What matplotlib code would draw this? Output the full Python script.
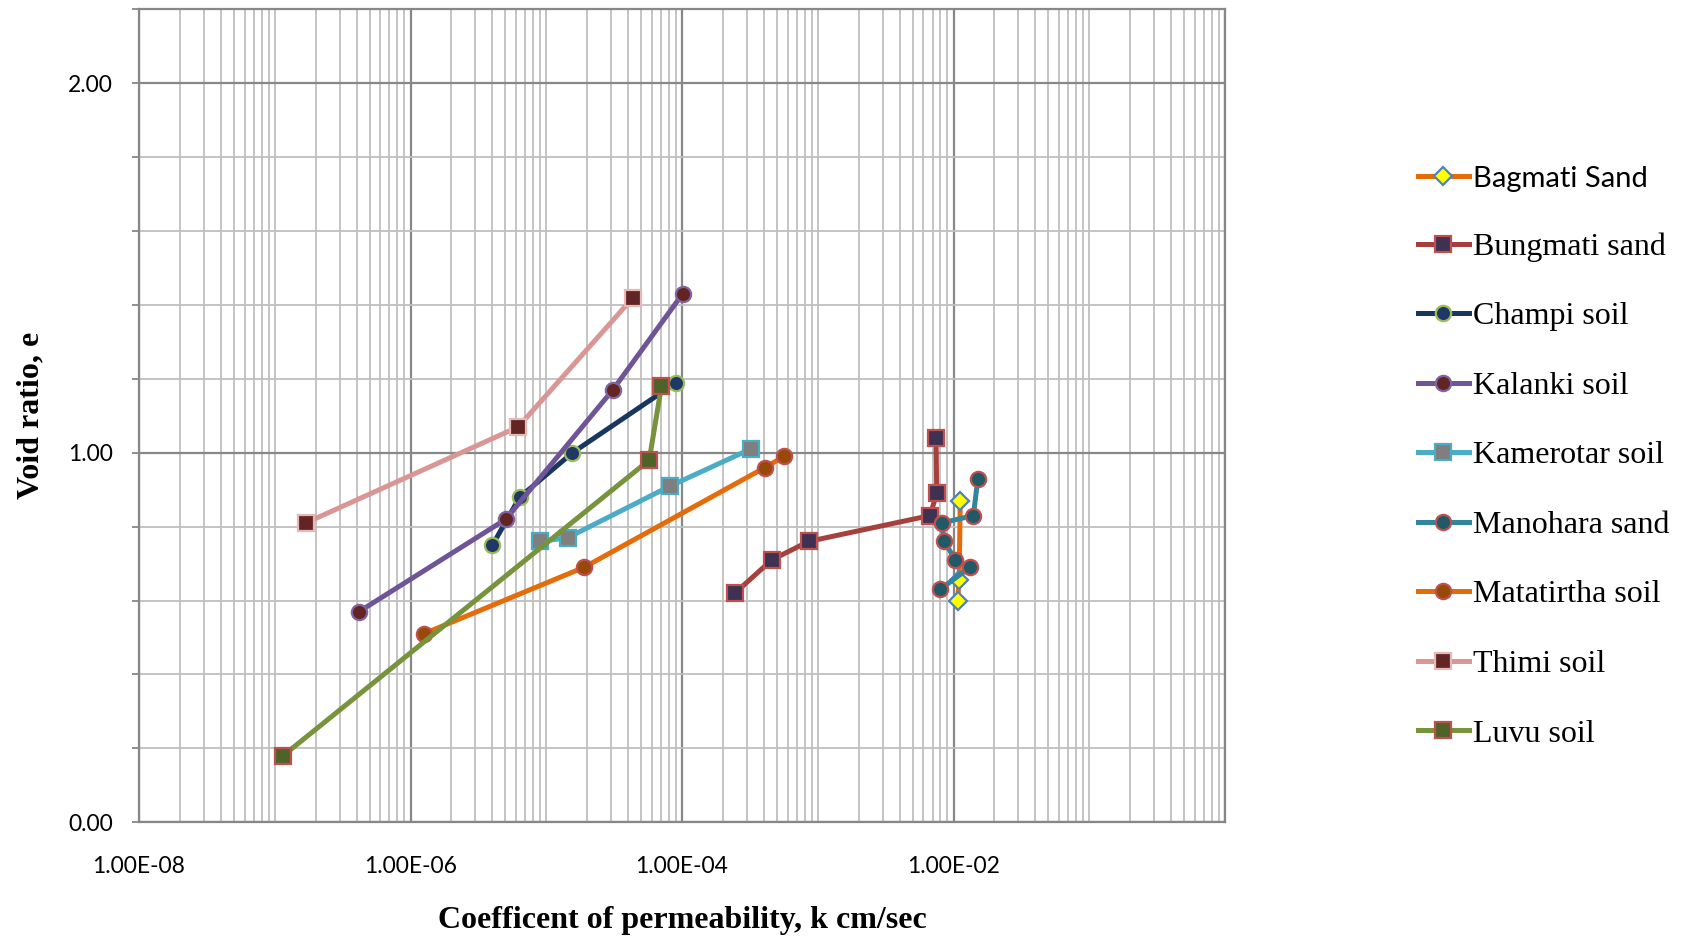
import matplotlib
matplotlib.use('Agg')
import matplotlib.pyplot as plt
from matplotlib.ticker import FixedLocator, LogLocator, NullFormatter, MultipleLocator

# permeability k (cm/sec) and void ratio e for each soil
bagmati_k = [1.12e-2, 1.10e-2, 1.07e-2]
bagmati_e = [0.87, 0.655, 0.60]
bungmati_k = [2.45e-4, 4.58e-4, 8.57e-4, 6.71e-3, 7.52e-3, 7.43e-3]
bungmati_e = [0.62, 0.71, 0.76, 0.83, 0.89, 1.04]
champi_k = [4.01e-6, 6.38e-6, 1.56e-5, 9.08e-5]
champi_e = [0.75, 0.88, 1.00, 1.19]
kalanki_k = [4.18e-7, 5.03e-6, 3.09e-5, 1.01e-4]
kalanki_e = [0.57, 0.82, 1.17, 1.43]
kamerotar_k = [9.0e-6, 1.44e-5, 8.18e-5, 3.20e-4]
kamerotar_e = [0.76, 0.77, 0.91, 1.01]
manohara_k = [1.51e-2, 1.40e-2, 8.18e-3, 8.55e-3, 1.03e-2, 1.32e-2, 7.96e-3]
manohara_e = [0.93, 0.83, 0.81, 0.76, 0.71, 0.69, 0.63]
matatirtha_k = [1.25e-6, 1.90e-5, 4.08e-4, 5.64e-4]
matatirtha_e = [0.51, 0.69, 0.96, 0.99]
thimi_k = [1.69e-7, 6.22e-6, 4.36e-5]
thimi_e = [0.81, 1.07, 1.42]
luvu_k = [1.15e-7, 5.73e-5, 7.05e-5]
luvu_e = [0.18, 0.98, 1.18]

x_ticks = [1e-8, 1e-6, 1e-4, 1e-2]
x_tick_labels = ['1.00E-08', '1.00E-06', '1.00E-04', '1.00E-02']
y_ticks = [0.0, 1.0, 2.0]
y_tick_labels = ['0.00', '1.00', '2.00']

# name, k, e, line colour, marker, marker face, marker edge
series = [
    ('Bagmati Sand', bagmati_k, bagmati_e, '#E46C0A', 'D', '#FFFF00', '#4F81BD'),
    ('Bungmati sand', bungmati_k, bungmati_e, '#A5403D', 's', '#3F3151', '#C0504D'),
    ('Champi soil', champi_k, champi_e, '#17375E', 'o', '#1F3864', '#9BBB59'),
    ('Kalanki soil', kalanki_k, kalanki_e, '#6F5597', 'o', '#632523', '#8064A2'),
    ('Kamerotar soil', kamerotar_k, kamerotar_e, '#4BACC6', 's', '#7F7F7F', '#4BACC6'),
    ('Manohara sand', manohara_k, manohara_e, '#31859C', 'o', '#215967', '#C0504D'),
    ('Matatirtha soil', matatirtha_k, matatirtha_e, '#E46C0A', 'o', '#984807', '#C0504D'),
    ('Thimi soil', thimi_k, thimi_e, '#D99694', 's', '#632523', '#E6B9B8'),
    ('Luvu soil', luvu_k, luvu_e, '#77933C', 's', '#4F6228', '#C0504D'),
]

fig = plt.figure(figsize=(16.83, 9.39), dpi=100)
ax = fig.add_axes([0.0826, 0.1243, 0.6453, 0.8658])

for name, k, e, lc, mk, mf, me in series:
    ms = 9 if mk == 'D' else 11
    ax.plot(k, e, color=lc, lw=3.6, marker=mk, markersize=ms,
            markerfacecolor=mf, markeredgecolor=me, markeredgewidth=1.6,
            label=name, zorder=3)

ax.set_xscale('log')
ax.set_xlim(1e-8, 1e0)
ax.set_ylim(0, 2.2)

ax.xaxis.set_major_locator(FixedLocator(x_ticks + [1e0]))
ax.set_xticklabels(x_tick_labels + [''])
ax.xaxis.set_minor_locator(LogLocator(base=10, subs=range(1, 10), numticks=100))
ax.xaxis.set_minor_formatter(NullFormatter())
ax.yaxis.set_major_locator(FixedLocator(y_ticks))
ax.set_yticklabels(y_tick_labels)
ax.yaxis.set_minor_locator(MultipleLocator(0.2))

ax.grid(which='minor', color='#BFBFBF', lw=1.3, zorder=0)
ax.grid(which='major', color='#878787', lw=1.6, zorder=0)
ax.set_axisbelow(True)

ax.tick_params(axis='both', which='both', length=0, labelsize=16.5, colors='black')
ax.tick_params(axis='y', which='both', length=5, color='#878787', width=1.3)
ax.tick_params(axis='x', pad=24)
ax.tick_params(axis='y', pad=14)
for lab in ax.get_xticklabels() + ax.get_yticklabels():
    lab.set_family('Lato')

for sp in ax.spines.values():
    sp.set_color('#878787')
    sp.set_linewidth(1.6)

ax.set_xlabel('Coefficent of permeability, k cm/sec', family='Liberation Serif',
              fontweight='bold', fontsize=23, labelpad=21)
ax.set_ylabel('Void ratio, e', family='Liberation Serif', fontweight='bold',
              fontsize=23, labelpad=16)

leg = fig.legend(loc='upper left', bbox_to_anchor=(0.8347, 0.838), frameon=False,
                 prop={'family': 'Liberation Serif', 'size': 23},
                 handlelength=1.6, handletextpad=0.13, labelspacing=1.257,
                 borderaxespad=0, markerscale=1.0)
leg.get_texts()[0].set_family('Lato')
leg.get_texts()[0].set_fontsize(21)

fig.savefig('out.png', dpi=100)
